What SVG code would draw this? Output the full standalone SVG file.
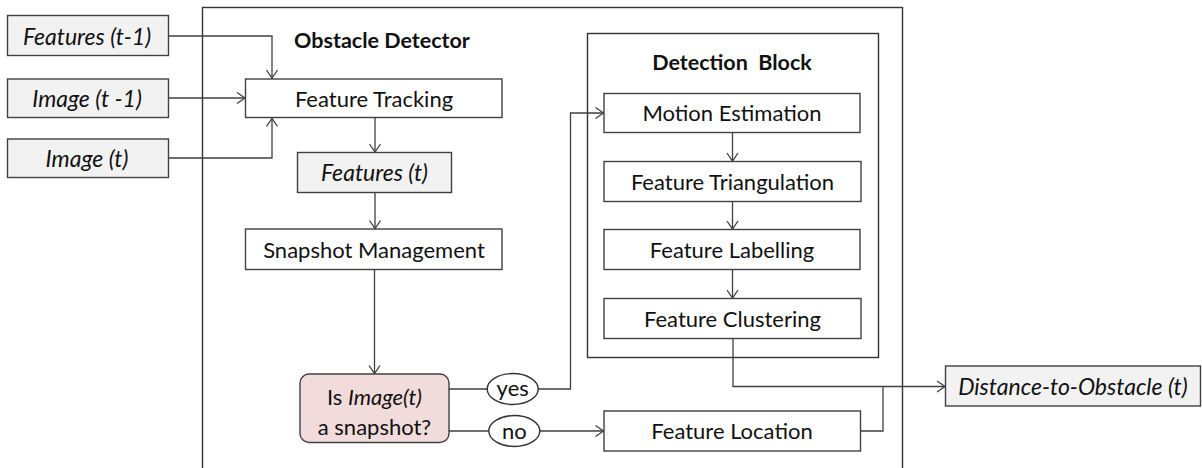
<svg xmlns="http://www.w3.org/2000/svg" width="1202" height="468" viewBox="0 0 1202 468">
<defs>
<style>
text{font-family:Lato,"Liberation Sans",sans-serif;font-size:22px;fill:#111;text-anchor:middle;dominant-baseline:central}
.it{font-style:italic;font-size:23px}
tspan.it{font-size:22px}
.b{font-weight:bold;font-size:21.5px}
.box{fill:#fff;stroke:#404040;stroke-width:1.4}
.gbox{fill:#f2f2f2;stroke:#404040;stroke-width:1.4}
.frame{fill:none;stroke:#333;stroke-width:1.4}
.dec{fill:#f2dcdb;stroke:#404040;stroke-width:1.4}
.ell{fill:#fff;stroke:#333;stroke-width:1.4}
#connectors path{fill:none;stroke:#404040;stroke-width:1.3}
</style>
<marker id="arr" markerUnits="userSpaceOnUse" markerWidth="12" markerHeight="14" refX="9" refY="6" orient="auto" viewBox="0 0 12 12">
<path d="M1,0.5 L9,6 L1,11.5" fill="none" stroke="#404040" stroke-width="1.3"/>
</marker>
</defs>
<rect width="1202" height="468" fill="#fff"/>
<g id="obstacle-detector">
<rect class="frame" x="202.5" y="7.5" width="700" height="480"/>
<text class="b" x="382" y="40">Obstacle Detector</text>
</g>
<g id="detection-block">
<rect class="frame" x="587.5" y="33.5" width="291" height="324"/>
<text class="b" x="732" y="62" xml:space="preserve">Detection  Block</text>
</g>
<g id="connectors">
<path d="M169,36 H272 V78" marker-end="url(#arr)"/>
<path d="M169,98 H245" marker-end="url(#arr)"/>
<path d="M169,158 H272 V118.5" marker-end="url(#arr)"/>
<path d="M375,118 V152" marker-end="url(#arr)"/>
<path d="M375,193 V228.5" marker-end="url(#arr)"/>
<path d="M374.5,270 V373.5" marker-end="url(#arr)"/>
<path d="M449,389 H487"/>
<path d="M538,389 H570.5 V113 H603.5" marker-end="url(#arr)"/>
<path d="M449,431 H489"/>
<path d="M540,431 H603.5" marker-end="url(#arr)"/>
<path d="M732.5,133 V161" marker-end="url(#arr)"/>
<path d="M732.5,202 V229" marker-end="url(#arr)"/>
<path d="M732.5,269.5 V298" marker-end="url(#arr)"/>
<path d="M733,338.5 V386.5 H945" marker-end="url(#arr)"/>
<path d="M861,431 H883 V386.5"/>
</g>
<g id="features-t-1"><rect class="gbox" x="7.5" y="15.5" width="161" height="40"/><text class="it" x="87" y="36">Features (t-1)</text></g>
<g id="image-t-1"><rect class="gbox" x="7.5" y="79" width="161" height="38.5"/><text class="it" x="87" y="98">Image (t -1)</text></g>
<g id="image-t"><rect class="gbox" x="7.5" y="139" width="161" height="38.5"/><text class="it" x="87" y="158">Image (t)</text></g>
<g id="feature-tracking"><rect class="box" x="245.5" y="79" width="256.5" height="38.5"/><text x="374" y="98">Feature Tracking</text></g>
<g id="features-t"><rect class="gbox" x="297.5" y="152.5" width="154" height="40"/><text class="it" x="374.5" y="172">Features (t)</text></g>
<g id="snapshot-management"><rect class="box" x="245.5" y="229" width="256.5" height="40.5"/><text x="374" y="249">Snapshot Management</text></g>
<g id="decision"><rect class="dec" x="300" y="374" width="149" height="68.5" rx="9"/><text x="374.5" y="396">Is <tspan class="it">Image(t)</tspan></text><text x="374.5" y="426">a snapshot?</text></g>
<g id="yes"><ellipse class="ell" cx="512.7" cy="389" rx="25.5" ry="15.5"/><text x="512.7" y="387">yes</text></g>
<g id="no"><ellipse class="ell" cx="514.3" cy="431" rx="25.5" ry="15.5"/><text x="514.3" y="430">no</text></g>
<g id="motion-estimation"><rect class="box" x="604" y="93.5" width="256" height="39"/><text x="732" y="112.5">Motion Estimation</text></g>
<g id="feature-triangulation"><rect class="box" x="604" y="161.5" width="257" height="40"/><text x="732.5" y="181">Feature Triangulation</text></g>
<g id="feature-labelling"><rect class="box" x="604" y="229.5" width="256" height="40"/><text x="732" y="249">Feature Labelling</text></g>
<g id="feature-clustering"><rect class="box" x="604" y="298.5" width="257" height="40"/><text x="732.5" y="318">Feature Clustering</text></g>
<g id="feature-location"><rect class="box" x="604" y="411" width="256.5" height="40"/><text x="732" y="430.5">Feature Location</text></g>
<g id="distance"><rect class="gbox" x="945.5" y="366" width="255" height="40"/><text class="it" x="1073" y="385.5">Distance-to-Obstacle (t)</text></g>
</svg>
